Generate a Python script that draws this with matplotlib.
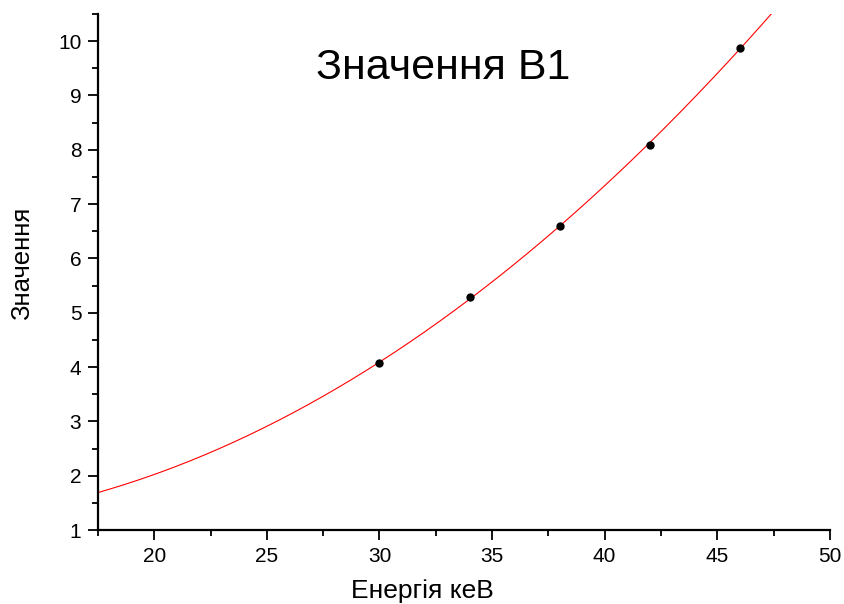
import numpy as np
import matplotlib.pyplot as plt
from matplotlib.ticker import MultipleLocator

# точки
energia = [30, 34, 38, 42, 46]
valores = [4.07, 5.29, 6.59, 8.09, 9.87]

plt.rcParams['font.family'] = ['Liberation Sans', 'DejaVu Sans']

fig = plt.figure(figsize=(8.45, 6.04), dpi=100)
ax = fig.add_axes([0.116, 0.1225, 0.866, 0.8545])

# ajuste polinomial de segundo grado
coef = np.polyfit(energia, valores, 2)
xs = np.linspace(17.5, 50, 400)
ys = np.polyval(coef, xs)
ax.plot(xs, ys, color='red', lw=0.8, zorder=2)
ax.plot(energia, valores, 'o', color='black', ms=5, zorder=3)

ax.set_xlim(17.5, 50)
ax.set_ylim(1, 10.5)
ax.xaxis.set_major_locator(MultipleLocator(5))
ax.xaxis.set_minor_locator(MultipleLocator(2.5))
ax.yaxis.set_major_locator(MultipleLocator(1))
ax.yaxis.set_minor_locator(MultipleLocator(0.5))

for s in ['top', 'right']:
    ax.spines[s].set_visible(False)
for s in ['left', 'bottom']:
    ax.spines[s].set_linewidth(1.6)

ax.tick_params(which='major', direction='out', length=7, width=1.3, labelsize=15, pad=5)
ax.tick_params(which='minor', direction='out', length=4, width=1.3)

ax.set_xlabel('Енергія кеВ', fontsize=19, va='center')
ax.xaxis.set_label_coords(0.443, -0.118)
ax.set_ylabel('Значення', fontsize=18.5, va='center')
ax.yaxis.set_label_coords(-0.104, 0.516)

fig.text(443 / 845, 1 - 68 / 604, 'Значення B1', fontsize=31, ha='center', va='center')

fig.savefig('out.png', dpi=100)
